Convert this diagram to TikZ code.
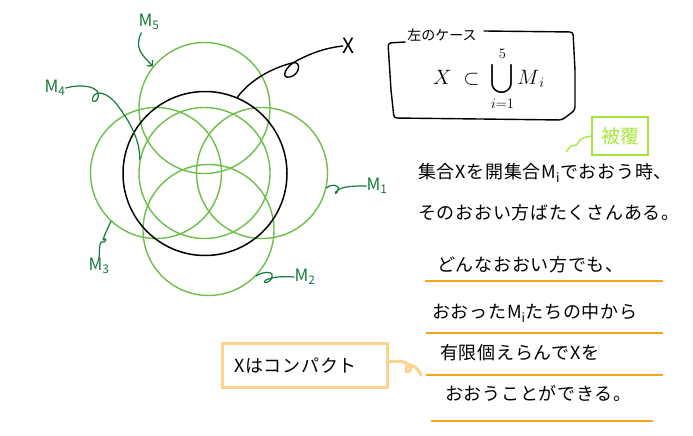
\documentclass[tikz,border=0pt]{standalone}
\usepackage{fontspec}
\usepackage{amsmath}
\setmainfont{Noto Sans CJK JP}
\newfontfamily\jp{Noto Sans CJK JP}
\newfontfamily\jpw[LetterSpace=4]{Noto Sans CJK JP}
\usetikzlibrary{arrows.meta}
\definecolor{cgreen}{HTML}{6DBE4B}
\definecolor{lgreen}{HTML}{137A3C}
\definecolor{uorange}{HTML}{F7A21B}
\definecolor{borange}{HTML}{FCD38E}
\definecolor{lime}{HTML}{A9E63B}
\tikzset{
  cov/.style={circle, draw=cgreen, line width=1.4pt, inner sep=0pt, minimum size=131pt},
  setx/.style={circle, draw=black, line width=1.5pt, inner sep=0pt, minimum size=164pt},
  mlab/.style={text=lgreen, font=\jp\fontsize{17}{19}\selectfont, inner sep=0pt},
  mcon/.style={draw=lgreen, line width=1.2pt, line cap=round, line join=round},
  jtext/.style={anchor=west, inner sep=0pt, font=\jpw\fontsize{18}{20}\selectfont},
  uline/.style={draw=uorange, line width=1.3pt},
  hand/.style={draw=black, line width=1.4pt, line cap=round, line join=round}
}
\begin{document}
\begin{tikzpicture}[x=1pt,y=-1pt]
\useasboundingbox (0,0) rectangle (693,436);
% circles
\node[cov] (m5) at (204.5,108) {};
\node[cov] (m3) at (156,173) {};
\node[cov] (m1) at (262,173) {};
\node[cov] (m4) at (204.5,173) {};
\node[cov] (m2) at (208.5,230) {};
\node[setx] (X) at (205,173.5) {};
% labels
\node[mlab] (l5) at (149,22) {M\textsubscript{5}};
\node[mlab] (l4) at (55,88) {M\textsubscript{4}};
\node[mlab] (l3) at (99,266) {M\textsubscript{3}};
\node[mlab] (l2) at (305,277) {M\textsubscript{2}};
\node[mlab] (l1) at (377,186) {M\textsubscript{1}};
\node[font=\jp\fontsize{21}{23}\selectfont, inner sep=0pt] (lx) at (349,46) {X};
% connectors
\draw[mcon, -{Straight Barb[length=4pt]}] (l5.south west) ++(3,3) coordinate (s5)
  .. controls (134,48) and (142,55) .. (m5.141);
\draw[mcon] (l4.east) .. controls (80,84) and (96,86) .. (98,93)
  .. controls (100,102) and (90,105) .. (93,97)
  .. controls (96,90) and (108,92) .. (118,106)
  .. controls (130,122) and (140,140) .. (m4.168);
\draw[mcon] (m3.227) .. controls (107,230) and (104,236) .. (103,240)
  .. controls (108,236) and (106,244) .. (101,242)
  .. controls (99,246) and (100,249) .. (l3.north);
\draw[mcon] (m2.316) .. controls (262,272) and (274,270) .. (272,277)
  .. controls (270,284) and (261,284) .. (266,280)
  .. controls (272,277) and (282,276) .. (l2.west);
\draw[mcon] (m1.347) .. controls (330,184) and (340,184) .. (338,190)
  .. controls (336,196) and (333,193) .. (338,190)
  .. controls (344,186) and (355,186) .. (l1.west);
\draw[hand] (X.67) .. controls (250,80) and (272,68) .. (292,63)
  .. controls (302,60) and (300,75) .. (290,77)
  .. controls (280,79) and (285,66) .. (298,60)
  .. controls (312,53) and (325,48) .. (lx.west);
% case box
\node[font=\jp\fontsize{14}{16}\selectfont, inner sep=0pt] (case) at (442,35) {左のケース};
\draw[hand, rounded corners=3pt] (case.west) ++(-2,7) -- (388,43) -- (391,90) -- (394,118)
  -- (480,119) -- (562,120) -- (575,110) -- (575,70) -- (573,32) -- (484,31);
\node[inner sep=0pt] (formula) at (489,79) {\fontsize{20}{24}\selectfont$X\;\subset\;\displaystyle\bigcup_{i=1}^{5}M_{\,i}$};
% covering box
\node[draw=lime, line width=1.3pt, text=lime, font=\jp\fontsize{19}{21}\selectfont, minimum width=56pt, minimum height=38pt, inner sep=0pt] (hifuku) at (620,136) {被覆};
\draw[draw=lime, line width=1.3pt, line cap=round] (hifuku.west) .. controls (585,137) and (580,138) .. (578,143)
  .. controls (576,147) and (572,144) .. (570,147) -- (566,152);
% texts
\node[jtext] (t1) at (418,173) {集合Xを開集合M\textsubscript{i}でおおう時、};
\node[jtext] (t2) at (418,213) {そのおおい方ばたくさんある。};
\node[jtext] (t3) at (437,265) {どんなおおい方でも、};
\node[jtext] (t4) at (432,313) {おおったM\textsubscript{i}たちの中から};
\node[jtext] (t5) at (440,353) {有限個えらんでXを};
\node[jtext] (t6) at (445,393) {おおうことができる。};
\coordinate (u1a) at (425,281); \coordinate (u1b) at (663,281);
\coordinate (u2a) at (426,333); \coordinate (u2b) at (663,333);
\coordinate (u3a) at (426,375); \coordinate (u3b) at (663,375);
\coordinate (u4a) at (431,421); \coordinate (u4b) at (653,421);
\draw[uline] (u1a) -- (u1b);
\draw[uline] (u2a) -- (u2b);
\draw[uline] (u3a) -- (u3b);
\draw[uline] (u4a) -- (u4b);
% compact box
\node[draw=borange, line width=3pt, minimum width=165pt, minimum height=44pt, inner sep=0pt] (cbox) at (304.5,365) {};
\node[jtext] (ctext) at (234,366) {Xはコンパクト};
\draw[draw=borange, line width=3pt, line cap=round] (cbox.east) ++(0,-3) coordinate (cs)
  .. controls (395,361) and (405,360) .. (410,366)
  .. controls (413,371) and (405,375) .. (406,368)
  .. controls (407,362) and (418,366) .. (421,375);
\end{tikzpicture}
\end{document}
